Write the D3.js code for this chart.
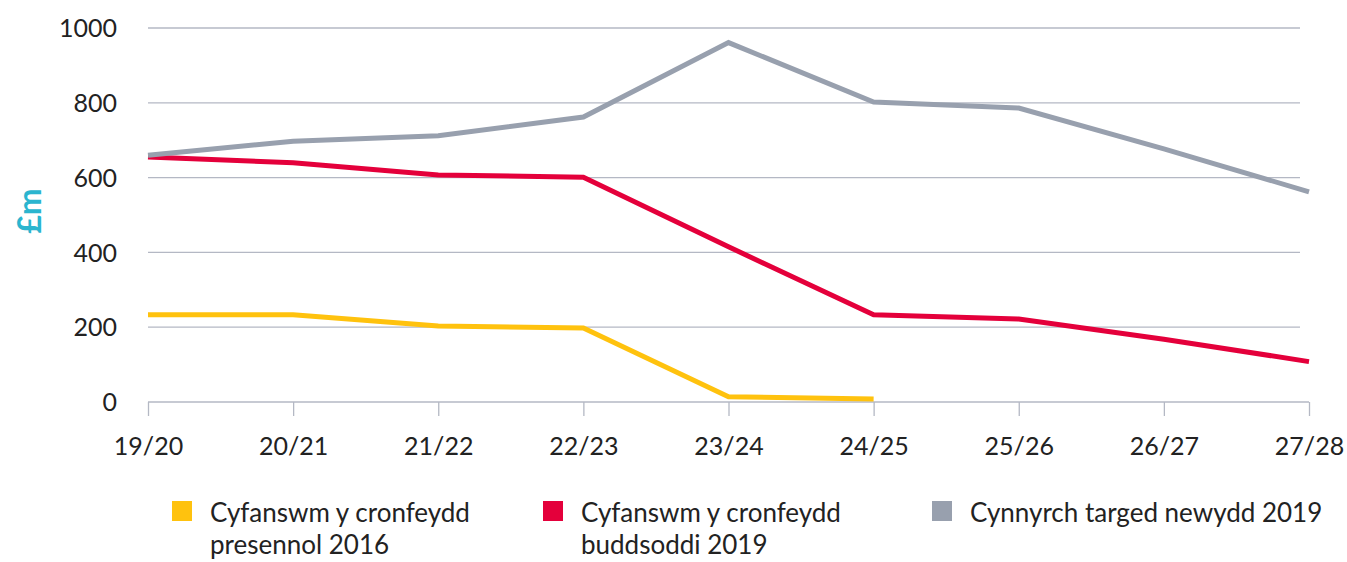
<!DOCTYPE html>
<html><head><meta charset="utf-8">
<script src="https://cdn.jsdelivr.net/npm/d3@7"></script>
<style>body{margin:0;background:#fff;} svg{display:block;font-family:Lato, "Open Sans", sans-serif;}</style>
</head><body>
<script>
const categories = ["19/20","20/21","21/22","22/23","23/24","24/25","25/26","26/27","27/28"];
const yTicks = [0,200,400,600,800,1000];
const presennol2016 = [233,233,203,198,14,8];
const buddsoddi2019 = [655,640,607,601,415,233,222,168,108];
const targed2019 = [660,697,712,762,961,802,786,677,562];
const seriesNames = ["Cyfanswm y cronfeydd|presennol 2016","Cyfanswm y cronfeydd|buddsoddi 2019","Cynnyrch targed newydd 2019"];
const colors = ["#FFC20E","#E4003B","#98A0AE"];

const W=1347,H=562;
const svg=d3.select("body").append("svg").attr("width",W).attr("height",H);
const x=d3.scalePoint().domain(categories).range([148,1309]);
const y=d3.scaleLinear().domain([0,1000]).range([402,28]);

// gridlines
svg.append("g").selectAll("line").data(yTicks.filter(d=>d>0)).join("line")
 .attr("x1",148).attr("x2",1300).attr("y1",d=>y(d)).attr("y2",d=>y(d))
 .attr("stroke","#b4b8c4").attr("stroke-width",1.3);

// y axis labels
const ya=svg.append("g").attr("transform","translate(148,0)")
 .call(d3.axisLeft(y).tickValues(yTicks).tickSize(0).tickPadding(31).tickFormat(d3.format("d")));
ya.select(".domain").remove();
ya.selectAll("text").attr("font-size",25).attr("fill","#222").attr("font-family","Lato, sans-serif").attr("dy","0.35em");

// x axis
const xa=svg.append("g").attr("transform","translate(0,402)")
 .call(d3.axisBottom(x).tickSize(14).tickPadding(21));
xa.select(".domain").attr("stroke","#b4b8c4").attr("stroke-width",1.3).attr("d","M148,0H1309");
xa.selectAll(".tick line").attr("stroke","#b4b8c4").attr("stroke-width",1.3);
xa.selectAll("text").attr("font-size",25).attr("fill","#222").attr("font-family","Lato, sans-serif");

// y title
svg.append("text").attr("transform","translate(41,211) rotate(-90)").attr("text-anchor","middle")
 .attr("font-size",32).attr("font-weight","bold").attr("fill","#2BB5CF").text("£m");

// lines
const line=d3.line().x((d,i)=>x(categories[i])).y(d=>y(d));
[presennol2016,buddsoddi2019,targed2019].forEach((s,k)=>{
  svg.append("path").datum(s).attr("d",line).attr("fill","none")
   .attr("stroke",colors[k]).attr("stroke-width",5).attr("stroke-linejoin","miter");
});

// legend
const legX=[172,543,932];
seriesNames.forEach((n,k)=>{
  const g=svg.append("g").attr("transform",`translate(${legX[k]},0)`);
  g.append("rect").attr("x",0).attr("y",501).attr("width",20).attr("height",20).attr("fill",colors[k]);
  const t=g.append("text").attr("x",38).attr("y",522).attr("font-size",26).attr("fill","#222");
  n.split("|").forEach((ln,j)=>t.append("tspan").attr("x",38).attr("dy",j?32:0).text(ln));
});
</script>
</body></html>
